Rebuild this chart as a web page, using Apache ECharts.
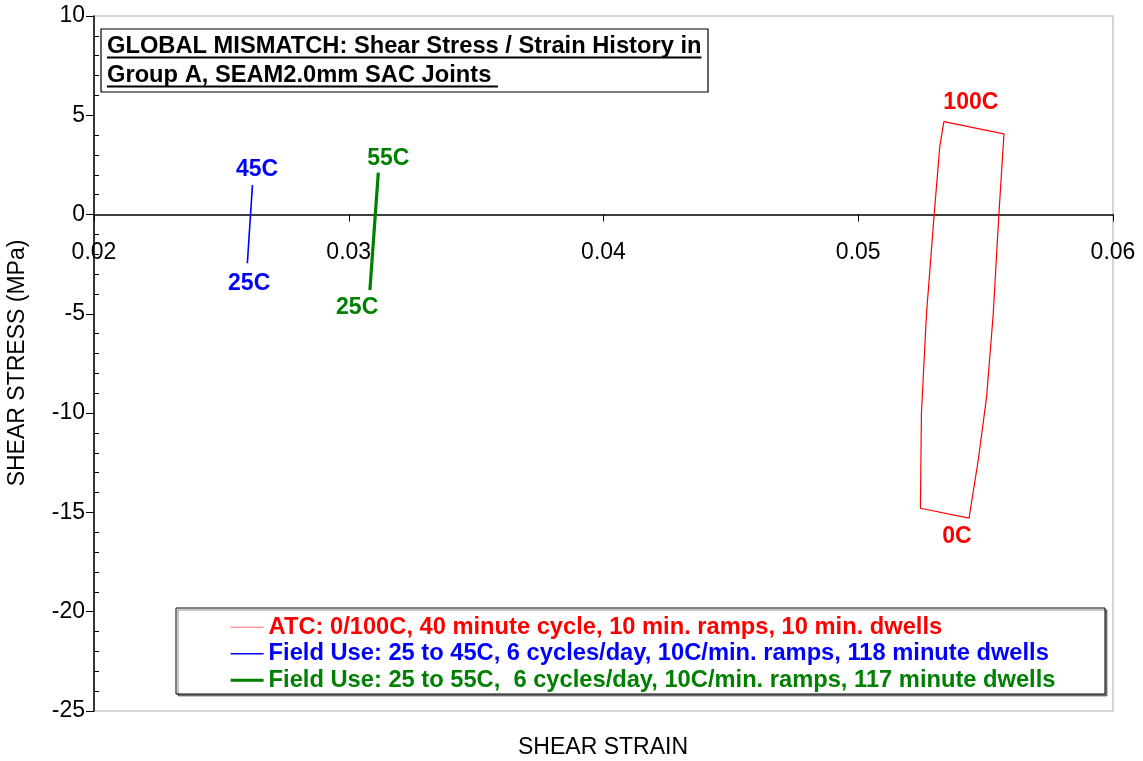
<!DOCTYPE html>
<html><head><meta charset="utf-8">
<script src="https://cdn.jsdelivr.net/npm/echarts@6/dist/echarts.min.js"></script>
<style>html,body{margin:0;padding:0;background:#fff}#c{width:1143px;height:761px}</style>
</head><body><div id="c"></div><script>
// ---- data ----
var atcStrain = [0.05336, 0.05572, 0.05552, 0.05530, 0.05504, 0.05471, 0.05435, 0.05244, 0.05248, 0.05268, 0.05298, 0.05320, 0.05336];
var atcStress = [4.68, 4.06, 0.00, -4.97, -9.17, -12.36, -15.29, -14.79, -10.01, -4.97, 0.00, 3.42, 4.68];
var field45Strain = [0.02602, 0.02622];
var field45Stress = [-2.45, 1.49];
var field55Strain = [0.03083, 0.03116];
var field55Stress = [-3.80, 2.11];
var seriesNames = [
  'ATC: 0/100C, 40 minute cycle, 10 min. ramps, 10 min. dwells',
  'Field Use: 25 to 45C, 6 cycles/day, 10C/min. ramps, 118 minute dwells',
  'Field Use: 25 to 55C,  6 cycles/day, 10C/min. ramps, 117 minute dwells'
];
var annText = ['100C', '0C', '45C', '25C', '55C', '25C'];
var annStrain = [0.05442, 0.05387, 0.02640, 0.02609, 0.03155, 0.03033];
var annStress = [5.62, -16.24, 2.25, -3.49, 2.80, -4.71];
var annSeries = [0, 0, 1, 1, 2, 2];
var xMin = 0.02, xMax = 0.06, xStep = 0.01;
var yMin = -25, yMax = 10, yStep = 5;
var titleLines = ['GLOBAL MISMATCH: Shear Stress / Strain History in', 'Group A, SEAM2.0mm SAC Joints '];
var xTitle = 'SHEAR STRAIN';
var yTitle = 'SHEAR STRESS (MPa)';

// ---- styles ----
var colors = ['#ff0000', '#0000ff', '#008000'];
var widths = [1.2, 1.6, 3.2];
var FF = '"Liberation Sans", Arial, sans-serif';
var gridTop = 16, gridBottom = 50, H = 761;

function pairs(xs, ys) { return xs.map(function (x, i) { return [x, ys[i]]; }); }
function measure(t, font) {
  var c = document.createElement('canvas').getContext('2d');
  c.font = font; return c.measureText(t).width;
}
var titleFont = 'bold 23.7px "Liberation Sans"';

// place the x axis on the y = 0 line (offset from the grid's bottom edge)
var plotH = H - gridTop - gridBottom;
var zeroFromBottom = plotH * (0 - yMin) / (yMax - yMin);

var lineData = [pairs(atcStrain, atcStress), pairs(field45Strain, field45Stress), pairs(field55Strain, field55Stress)];
var series = lineData.map(function (d, i) {
  return {
    name: seriesNames[i], type: 'line', data: d, symbol: 'none', showSymbol: false,
    lineStyle: { color: colors[i], width: widths[i] }, itemStyle: { color: colors[i] },
    z: 2, animation: false
  };
});
series.push({
  name: 'labels', type: 'scatter', symbolSize: 0, silent: true, animation: false, z: 3,
  itemStyle: { opacity: 1 },
  data: annText.map(function (t, i) {
    return {
      name: t, value: [annStrain[i], annStress[i]],
      label: { color: colors[annSeries[i]] }
    };
  }),
  label: {
    show: true, position: 'inside', formatter: function (p) { return p.name; },
    fontSize: 23, fontWeight: 'bold', fontFamily: FF, opacity: 1
  }
});

var graphic = [
  { type: 'rect', z: 3, shape: { x: 101, y: 29, width: 607, height: 63 }, style: { fill: '#fff', stroke: '#000', lineWidth: 1.2 } },
  { type: 'rect', z: 3, shape: { x: 176, y: 608, width: 929, height: 86 }, style: { fill: '#fff', stroke: '#000', lineWidth: 1, shadowColor: 'rgba(0,0,0,0.45)', shadowOffsetX: 2, shadowOffsetY: 2 } },
  { type: 'text', x: 603, y: 748, style: { text: xTitle, font: '23px ' + FF, fill: '#000', align: 'center', verticalAlign: 'middle' } },
  { type: 'text', x: 18, y: 363, rotation: Math.PI / 2, style: { text: yTitle, font: '23px ' + FF, fill: '#000', align: 'center', verticalAlign: 'middle' } }
];
var tY = [46, 75];
titleLines.forEach(function (t, i) {
  graphic.push({ type: 'text', z: 4, x: 107, y: tY[i], style: { text: t, font: titleFont, fill: '#000', verticalAlign: 'middle' } });
  var w = measure(t, titleFont);
  graphic.push({ type: 'rect', z: 4, shape: { x: 107, y: tY[i] + 10.5, width: w, height: 2 }, style: { fill: '#000' } });
});

var chart = echarts.init(document.getElementById('c'), null, { renderer: 'canvas' });
chart.setOption({
  animation: false,
  backgroundColor: '#fff',
  grid: { left: 94, top: gridTop, right: 30, bottom: gridBottom, show: true, borderColor: '#c8c8c8', borderWidth: 1.5, containLabel: false, outerBoundsMode: 'none' },
  xAxis: {
    type: 'value', min: xMin, max: xMax, interval: xStep, position: 'bottom', offset: -zeroFromBottom,
    axisLine: { onZero: false, lineStyle: { color: '#000', width: 1.5 } },
    axisTick: { show: true, length: 7, lineStyle: { color: '#000', width: 1 } },
    axisLabel: { margin: 27, fontSize: 23, color: '#000', fontFamily: FF, hideOverlap: false },
    splitLine: { show: false }
  },
  yAxis: [{
    type: 'value', min: yMin, max: yMax, interval: yStep, position: 'left',
    axisLine: { show: true, onZero: false, lineStyle: { color: '#000', width: 1.5 } },
    axisTick: { show: true, length: 8, lineStyle: { color: '#000', width: 1 } },
    axisLabel: { margin: 9, fontSize: 23, color: '#000', fontFamily: FF, hideOverlap: false },
    splitLine: { show: false }
  }, {
    type: 'value', min: yMin, max: yMax, interval: yStep, position: 'left',
    axisLine: { show: false, onZero: false },
    axisTick: { show: false, inside: true },
    minorTick: { show: true, splitNumber: 5, length: 5, lineStyle: { color: '#000', width: 1 } },
    axisLabel: { show: false }, splitLine: { show: false }
  }],
  legend: {
    show: true, orient: 'vertical', left: 229, top: 614, padding: 0, itemGap: 0,
    itemWidth: 33, itemHeight: 14,
    itemStyle: { color: 'rgba(0,0,0,0)', borderColor: 'rgba(0,0,0,0)', borderWidth: 0 },
    data: seriesNames.map(function (n, i) {
      return { name: n, textStyle: { color: colors[i] }, lineStyle: { width: widths[i], color: colors[i], opacity: i === 0 ? 0.55 : 1 } };
    }),
    textStyle: { fontSize: 23.7, fontWeight: 'bold', fontFamily: FF, lineHeight: 26.5 },
    selectedMode: false, z: 5
  },
  graphic: graphic,
  series: series
});
</script></body></html>
